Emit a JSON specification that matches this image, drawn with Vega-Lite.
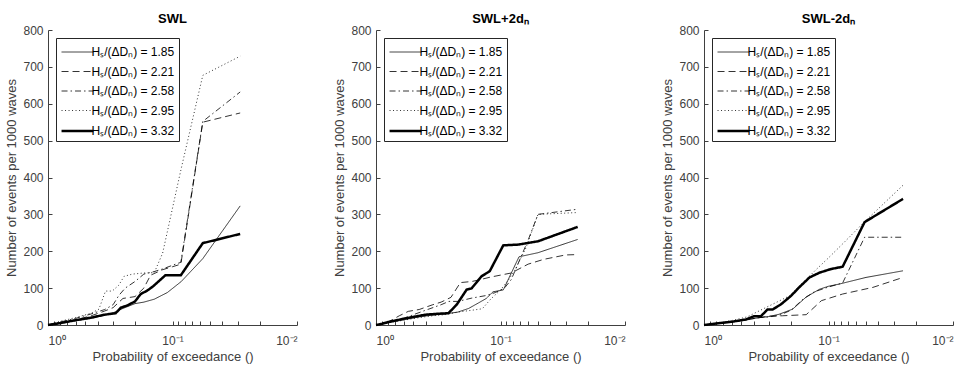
{
  "$schema": "https://vega.github.io/schema/vega-lite/v6.json",
  "background": "white",
  "padding": {"left": 5, "top": 13, "right": 5, "bottom": 3},
  "bounds": "flush",
  "spacing": 79,
  "config": {
    "view": {"stroke": null},
    "font": "Liberation Sans",
    "axis": {
      "grid": false,
      "labelFont": "Liberation Sans",
      "labelFontSize": 12,
      "labelColor": "#404040",
      "titleFont": "Liberation Sans",
      "titleFontSize": 13,
      "titleFontWeight": "normal",
      "titleColor": "#404040",
      "domainColor": "#404040",
      "tickColor": "#404040",
      "tickSize": -4,
      "labelOverlap": false
    },
    "axisX": {"labelPadding": 14, "titlePadding": 4},
    "axisY": {"labelPadding": 9, "titlePadding": 4},
    "title": {"font": "Liberation Sans", "fontSize": 13, "fontWeight": "bold", "color": "black", "offset": -2},
    "legend": {
      "orient": "top-left",
      "offset": 8,
      "padding": 4,
      "strokeColor": "#262626",
      "fillColor": "white",
      "symbolType": "M-1.68,0H1.68",
      "symbolSize": 361,
      "symbolOffset": 6.5,
      "symbolFillColor": "transparent",
      "symbolStrokeColor": "black",
      "labelFont": "Liberation Sans",
      "labelFontSize": 12,
      "labelColor": "black",
      "labelOffset": 3,
      "rowPadding": 3.5,
      "title": null
    }
  },
  "datasets": {
    "d": [
      {"panel": "SWL", "series": "1.85", "p": 1, "n": 0},
      {"panel": "SWL", "series": "1.85", "p": 0.8, "n": 5},
      {"panel": "SWL", "series": "1.85", "p": 0.6, "n": 12},
      {"panel": "SWL", "series": "1.85", "p": 0.45, "n": 18},
      {"panel": "SWL", "series": "1.85", "p": 0.35, "n": 27},
      {"panel": "SWL", "series": "1.85", "p": 0.3, "n": 33},
      {"panel": "SWL", "series": "1.85", "p": 0.25, "n": 45},
      {"panel": "SWL", "series": "1.85", "p": 0.2, "n": 58},
      {"panel": "SWL", "series": "1.85", "p": 0.17, "n": 62},
      {"panel": "SWL", "series": "1.85", "p": 0.14, "n": 70},
      {"panel": "SWL", "series": "1.85", "p": 0.11, "n": 88},
      {"panel": "SWL", "series": "1.85", "p": 0.085, "n": 118},
      {"panel": "SWL", "series": "1.85", "p": 0.0571, "n": 180},
      {"panel": "SWL", "series": "1.85", "p": 0.0286, "n": 323},

      {"panel": "SWL", "series": "2.21", "p": 1, "n": 0},
      {"panel": "SWL", "series": "2.21", "p": 0.8, "n": 6},
      {"panel": "SWL", "series": "2.21", "p": 0.6, "n": 14},
      {"panel": "SWL", "series": "2.21", "p": 0.45, "n": 25},
      {"panel": "SWL", "series": "2.21", "p": 0.35, "n": 38},
      {"panel": "SWL", "series": "2.21", "p": 0.3, "n": 47},
      {"panel": "SWL", "series": "2.21", "p": 0.25, "n": 72},
      {"panel": "SWL", "series": "2.21", "p": 0.2, "n": 77},
      {"panel": "SWL", "series": "2.21", "p": 0.17, "n": 100},
      {"panel": "SWL", "series": "2.21", "p": 0.15, "n": 135},
      {"panel": "SWL", "series": "2.21", "p": 0.12, "n": 150},
      {"panel": "SWL", "series": "2.21", "p": 0.1, "n": 158},
      {"panel": "SWL", "series": "2.21", "p": 0.0857, "n": 165},
      {"panel": "SWL", "series": "2.21", "p": 0.0571, "n": 550},
      {"panel": "SWL", "series": "2.21", "p": 0.0286, "n": 575},

      {"panel": "SWL", "series": "2.58", "p": 1, "n": 0},
      {"panel": "SWL", "series": "2.58", "p": 0.8, "n": 8},
      {"panel": "SWL", "series": "2.58", "p": 0.6, "n": 18},
      {"panel": "SWL", "series": "2.58", "p": 0.45, "n": 30},
      {"panel": "SWL", "series": "2.58", "p": 0.35, "n": 42},
      {"panel": "SWL", "series": "2.58", "p": 0.3, "n": 55},
      {"panel": "SWL", "series": "2.58", "p": 0.27, "n": 80},
      {"panel": "SWL", "series": "2.58", "p": 0.24, "n": 100},
      {"panel": "SWL", "series": "2.58", "p": 0.2, "n": 118},
      {"panel": "SWL", "series": "2.58", "p": 0.17, "n": 138},
      {"panel": "SWL", "series": "2.58", "p": 0.14, "n": 145},
      {"panel": "SWL", "series": "2.58", "p": 0.12, "n": 152},
      {"panel": "SWL", "series": "2.58", "p": 0.1, "n": 162},
      {"panel": "SWL", "series": "2.58", "p": 0.0857, "n": 170},
      {"panel": "SWL", "series": "2.58", "p": 0.0571, "n": 552},
      {"panel": "SWL", "series": "2.58", "p": 0.0286, "n": 632},

      {"panel": "SWL", "series": "2.95", "p": 1, "n": 0},
      {"panel": "SWL", "series": "2.95", "p": 0.8, "n": 10},
      {"panel": "SWL", "series": "2.95", "p": 0.6, "n": 20},
      {"panel": "SWL", "series": "2.95", "p": 0.45, "n": 32},
      {"panel": "SWL", "series": "2.95", "p": 0.39, "n": 43},
      {"panel": "SWL", "series": "2.95", "p": 0.345, "n": 92},
      {"panel": "SWL", "series": "2.95", "p": 0.305, "n": 92},
      {"panel": "SWL", "series": "2.95", "p": 0.27, "n": 108},
      {"panel": "SWL", "series": "2.95", "p": 0.245, "n": 132},
      {"panel": "SWL", "series": "2.95", "p": 0.21, "n": 138},
      {"panel": "SWL", "series": "2.95", "p": 0.17, "n": 141},
      {"panel": "SWL", "series": "2.95", "p": 0.14, "n": 142},
      {"panel": "SWL", "series": "2.95", "p": 0.12, "n": 195},
      {"panel": "SWL", "series": "2.95", "p": 0.0857, "n": 420},
      {"panel": "SWL", "series": "2.95", "p": 0.0571, "n": 677},
      {"panel": "SWL", "series": "2.95", "p": 0.0286, "n": 729},

      {"panel": "SWL", "series": "3.32", "p": 1, "n": 0},
      {"panel": "SWL", "series": "3.32", "p": 0.8, "n": 5},
      {"panel": "SWL", "series": "3.32", "p": 0.6, "n": 13},
      {"panel": "SWL", "series": "3.32", "p": 0.45, "n": 20},
      {"panel": "SWL", "series": "3.32", "p": 0.35, "n": 28},
      {"panel": "SWL", "series": "3.32", "p": 0.286, "n": 32},
      {"panel": "SWL", "series": "3.32", "p": 0.26, "n": 47},
      {"panel": "SWL", "series": "3.32", "p": 0.23, "n": 53},
      {"panel": "SWL", "series": "3.32", "p": 0.2, "n": 64},
      {"panel": "SWL", "series": "3.32", "p": 0.18, "n": 84},
      {"panel": "SWL", "series": "3.32", "p": 0.16, "n": 93},
      {"panel": "SWL", "series": "3.32", "p": 0.143, "n": 105},
      {"panel": "SWL", "series": "3.32", "p": 0.114, "n": 135},
      {"panel": "SWL", "series": "3.32", "p": 0.0857, "n": 135},
      {"panel": "SWL", "series": "3.32", "p": 0.0571, "n": 222},
      {"panel": "SWL", "series": "3.32", "p": 0.0286, "n": 247},

      {"panel": "SWL+2dn", "series": "1.85", "p": 1, "n": 0},
      {"panel": "SWL+2dn", "series": "1.85", "p": 0.8, "n": 6},
      {"panel": "SWL+2dn", "series": "1.85", "p": 0.6, "n": 14},
      {"panel": "SWL+2dn", "series": "1.85", "p": 0.45, "n": 22},
      {"panel": "SWL+2dn", "series": "1.85", "p": 0.35, "n": 27},
      {"panel": "SWL+2dn", "series": "1.85", "p": 0.28, "n": 30},
      {"panel": "SWL+2dn", "series": "1.85", "p": 0.22, "n": 35},
      {"panel": "SWL+2dn", "series": "1.85", "p": 0.18, "n": 45},
      {"panel": "SWL+2dn", "series": "1.85", "p": 0.15, "n": 60},
      {"panel": "SWL+2dn", "series": "1.85", "p": 0.13, "n": 72},
      {"panel": "SWL+2dn", "series": "1.85", "p": 0.115, "n": 90},
      {"panel": "SWL+2dn", "series": "1.85", "p": 0.095, "n": 95},
      {"panel": "SWL+2dn", "series": "1.85", "p": 0.071, "n": 185},
      {"panel": "SWL+2dn", "series": "1.85", "p": 0.05, "n": 196},
      {"panel": "SWL+2dn", "series": "1.85", "p": 0.024, "n": 232},

      {"panel": "SWL+2dn", "series": "2.21", "p": 1, "n": 0},
      {"panel": "SWL+2dn", "series": "2.21", "p": 0.8, "n": 8},
      {"panel": "SWL+2dn", "series": "2.21", "p": 0.65, "n": 25},
      {"panel": "SWL+2dn", "series": "2.21", "p": 0.55, "n": 37},
      {"panel": "SWL+2dn", "series": "2.21", "p": 0.45, "n": 42},
      {"panel": "SWL+2dn", "series": "2.21", "p": 0.35, "n": 55},
      {"panel": "SWL+2dn", "series": "2.21", "p": 0.3, "n": 62},
      {"panel": "SWL+2dn", "series": "2.21", "p": 0.25, "n": 75},
      {"panel": "SWL+2dn", "series": "2.21", "p": 0.21, "n": 115},
      {"panel": "SWL+2dn", "series": "2.21", "p": 0.17, "n": 118},
      {"panel": "SWL+2dn", "series": "2.21", "p": 0.15, "n": 122},
      {"panel": "SWL+2dn", "series": "2.21", "p": 0.12, "n": 130},
      {"panel": "SWL+2dn", "series": "2.21", "p": 0.082, "n": 141},
      {"panel": "SWL+2dn", "series": "2.21", "p": 0.06, "n": 165},
      {"panel": "SWL+2dn", "series": "2.21", "p": 0.045, "n": 178},
      {"panel": "SWL+2dn", "series": "2.21", "p": 0.03, "n": 190},
      {"panel": "SWL+2dn", "series": "2.21", "p": 0.024, "n": 191},

      {"panel": "SWL+2dn", "series": "2.58", "p": 1, "n": 0},
      {"panel": "SWL+2dn", "series": "2.58", "p": 0.8, "n": 7},
      {"panel": "SWL+2dn", "series": "2.58", "p": 0.6, "n": 18},
      {"panel": "SWL+2dn", "series": "2.58", "p": 0.5, "n": 28},
      {"panel": "SWL+2dn", "series": "2.58", "p": 0.4, "n": 40},
      {"panel": "SWL+2dn", "series": "2.58", "p": 0.3, "n": 55},
      {"panel": "SWL+2dn", "series": "2.58", "p": 0.26, "n": 64},
      {"panel": "SWL+2dn", "series": "2.58", "p": 0.22, "n": 64},
      {"panel": "SWL+2dn", "series": "2.58", "p": 0.17, "n": 73},
      {"panel": "SWL+2dn", "series": "2.58", "p": 0.13, "n": 80},
      {"panel": "SWL+2dn", "series": "2.58", "p": 0.11, "n": 88},
      {"panel": "SWL+2dn", "series": "2.58", "p": 0.093, "n": 100},
      {"panel": "SWL+2dn", "series": "2.58", "p": 0.082, "n": 123},
      {"panel": "SWL+2dn", "series": "2.58", "p": 0.06, "n": 230},
      {"panel": "SWL+2dn", "series": "2.58", "p": 0.05, "n": 300},
      {"panel": "SWL+2dn", "series": "2.58", "p": 0.024, "n": 314},

      {"panel": "SWL+2dn", "series": "2.95", "p": 1, "n": 0},
      {"panel": "SWL+2dn", "series": "2.95", "p": 0.8, "n": 6},
      {"panel": "SWL+2dn", "series": "2.95", "p": 0.6, "n": 13},
      {"panel": "SWL+2dn", "series": "2.95", "p": 0.45, "n": 20},
      {"panel": "SWL+2dn", "series": "2.95", "p": 0.35, "n": 25},
      {"panel": "SWL+2dn", "series": "2.95", "p": 0.28, "n": 28},
      {"panel": "SWL+2dn", "series": "2.95", "p": 0.22, "n": 35},
      {"panel": "SWL+2dn", "series": "2.95", "p": 0.17, "n": 40},
      {"panel": "SWL+2dn", "series": "2.95", "p": 0.14, "n": 44},
      {"panel": "SWL+2dn", "series": "2.95", "p": 0.12, "n": 70},
      {"panel": "SWL+2dn", "series": "2.95", "p": 0.1, "n": 95},
      {"panel": "SWL+2dn", "series": "2.95", "p": 0.085, "n": 125},
      {"panel": "SWL+2dn", "series": "2.95", "p": 0.075, "n": 155},
      {"panel": "SWL+2dn", "series": "2.95", "p": 0.0625, "n": 209},
      {"panel": "SWL+2dn", "series": "2.95", "p": 0.05, "n": 300},
      {"panel": "SWL+2dn", "series": "2.95", "p": 0.024, "n": 305},

      {"panel": "SWL+2dn", "series": "3.32", "p": 1, "n": 0},
      {"panel": "SWL+2dn", "series": "3.32", "p": 0.9, "n": 3},
      {"panel": "SWL+2dn", "series": "3.32", "p": 0.8, "n": 8},
      {"panel": "SWL+2dn", "series": "3.32", "p": 0.58, "n": 18},
      {"panel": "SWL+2dn", "series": "3.32", "p": 0.4, "n": 28},
      {"panel": "SWL+2dn", "series": "3.32", "p": 0.3, "n": 31},
      {"panel": "SWL+2dn", "series": "3.32", "p": 0.262, "n": 32},
      {"panel": "SWL+2dn", "series": "3.32", "p": 0.225, "n": 55},
      {"panel": "SWL+2dn", "series": "3.32", "p": 0.187, "n": 96},
      {"panel": "SWL+2dn", "series": "3.32", "p": 0.171, "n": 99},
      {"panel": "SWL+2dn", "series": "3.32", "p": 0.142, "n": 132},
      {"panel": "SWL+2dn", "series": "3.32", "p": 0.122, "n": 146},
      {"panel": "SWL+2dn", "series": "3.32", "p": 0.095, "n": 216},
      {"panel": "SWL+2dn", "series": "3.32", "p": 0.072, "n": 218},
      {"panel": "SWL+2dn", "series": "3.32", "p": 0.05, "n": 227},
      {"panel": "SWL+2dn", "series": "3.32", "p": 0.024, "n": 266},

      {"panel": "SWL-2dn", "series": "1.85", "p": 1, "n": 0},
      {"panel": "SWL-2dn", "series": "1.85", "p": 0.8, "n": 4},
      {"panel": "SWL-2dn", "series": "1.85", "p": 0.6, "n": 9},
      {"panel": "SWL-2dn", "series": "1.85", "p": 0.45, "n": 14},
      {"panel": "SWL-2dn", "series": "1.85", "p": 0.36, "n": 20},
      {"panel": "SWL-2dn", "series": "1.85", "p": 0.3, "n": 23},
      {"panel": "SWL-2dn", "series": "1.85", "p": 0.25, "n": 29},
      {"panel": "SWL-2dn", "series": "1.85", "p": 0.194, "n": 43},
      {"panel": "SWL-2dn", "series": "1.85", "p": 0.151, "n": 76},
      {"panel": "SWL-2dn", "series": "1.85", "p": 0.118, "n": 97},
      {"panel": "SWL-2dn", "series": "1.85", "p": 0.1, "n": 105},
      {"panel": "SWL-2dn", "series": "1.85", "p": 0.082, "n": 111},
      {"panel": "SWL-2dn", "series": "1.85", "p": 0.05, "n": 129},
      {"panel": "SWL-2dn", "series": "1.85", "p": 0.0252, "n": 147},

      {"panel": "SWL-2dn", "series": "2.21", "p": 1, "n": 0},
      {"panel": "SWL-2dn", "series": "2.21", "p": 0.8, "n": 4},
      {"panel": "SWL-2dn", "series": "2.21", "p": 0.6, "n": 9},
      {"panel": "SWL-2dn", "series": "2.21", "p": 0.45, "n": 15},
      {"panel": "SWL-2dn", "series": "2.21", "p": 0.36, "n": 20},
      {"panel": "SWL-2dn", "series": "2.21", "p": 0.3, "n": 24},
      {"panel": "SWL-2dn", "series": "2.21", "p": 0.235, "n": 25},
      {"panel": "SWL-2dn", "series": "2.21", "p": 0.151, "n": 28},
      {"panel": "SWL-2dn", "series": "2.21", "p": 0.114, "n": 66},
      {"panel": "SWL-2dn", "series": "2.21", "p": 0.077, "n": 84},
      {"panel": "SWL-2dn", "series": "2.21", "p": 0.044, "n": 102},
      {"panel": "SWL-2dn", "series": "2.21", "p": 0.0252, "n": 129},

      {"panel": "SWL-2dn", "series": "2.58", "p": 1, "n": 0},
      {"panel": "SWL-2dn", "series": "2.58", "p": 0.8, "n": 4},
      {"panel": "SWL-2dn", "series": "2.58", "p": 0.6, "n": 9},
      {"panel": "SWL-2dn", "series": "2.58", "p": 0.45, "n": 15},
      {"panel": "SWL-2dn", "series": "2.58", "p": 0.36, "n": 20},
      {"panel": "SWL-2dn", "series": "2.58", "p": 0.3, "n": 22},
      {"panel": "SWL-2dn", "series": "2.58", "p": 0.25, "n": 26},
      {"panel": "SWL-2dn", "series": "2.58", "p": 0.2, "n": 40},
      {"panel": "SWL-2dn", "series": "2.58", "p": 0.16, "n": 70},
      {"panel": "SWL-2dn", "series": "2.58", "p": 0.13, "n": 90},
      {"panel": "SWL-2dn", "series": "2.58", "p": 0.1, "n": 103},
      {"panel": "SWL-2dn", "series": "2.58", "p": 0.077, "n": 114},
      {"panel": "SWL-2dn", "series": "2.58", "p": 0.0513, "n": 238},
      {"panel": "SWL-2dn", "series": "2.58", "p": 0.0252, "n": 238},

      {"panel": "SWL-2dn", "series": "2.95", "p": 1, "n": 0},
      {"panel": "SWL-2dn", "series": "2.95", "p": 0.8, "n": 5},
      {"panel": "SWL-2dn", "series": "2.95", "p": 0.6, "n": 12},
      {"panel": "SWL-2dn", "series": "2.95", "p": 0.45, "n": 22},
      {"panel": "SWL-2dn", "series": "2.95", "p": 0.32, "n": 47},
      {"panel": "SWL-2dn", "series": "2.95", "p": 0.26, "n": 62},
      {"panel": "SWL-2dn", "series": "2.95", "p": 0.206, "n": 79},
      {"panel": "SWL-2dn", "series": "2.95", "p": 0.171, "n": 106},
      {"panel": "SWL-2dn", "series": "2.95", "p": 0.126, "n": 150},
      {"panel": "SWL-2dn", "series": "2.95", "p": 0.1, "n": 182},
      {"panel": "SWL-2dn", "series": "2.95", "p": 0.077, "n": 220},
      {"panel": "SWL-2dn", "series": "2.95", "p": 0.0513, "n": 280},
      {"panel": "SWL-2dn", "series": "2.95", "p": 0.0252, "n": 379},

      {"panel": "SWL-2dn", "series": "3.32", "p": 1, "n": 0},
      {"panel": "SWL-2dn", "series": "3.32", "p": 0.8, "n": 4},
      {"panel": "SWL-2dn", "series": "3.32", "p": 0.591, "n": 9},
      {"panel": "SWL-2dn", "series": "3.32", "p": 0.461, "n": 15},
      {"panel": "SWL-2dn", "series": "3.32", "p": 0.395, "n": 24},
      {"panel": "SWL-2dn", "series": "3.32", "p": 0.349, "n": 24},
      {"panel": "SWL-2dn", "series": "3.32", "p": 0.309, "n": 42},
      {"panel": "SWL-2dn", "series": "3.32", "p": 0.281, "n": 42},
      {"panel": "SWL-2dn", "series": "3.32", "p": 0.241, "n": 56},
      {"panel": "SWL-2dn", "series": "3.32", "p": 0.2, "n": 79},
      {"panel": "SWL-2dn", "series": "3.32", "p": 0.171, "n": 103},
      {"panel": "SWL-2dn", "series": "3.32", "p": 0.142, "n": 129},
      {"panel": "SWL-2dn", "series": "3.32", "p": 0.118, "n": 142},
      {"panel": "SWL-2dn", "series": "3.32", "p": 0.095, "n": 152},
      {"panel": "SWL-2dn", "series": "3.32", "p": 0.077, "n": 158},
      {"panel": "SWL-2dn", "series": "3.32", "p": 0.0513, "n": 279},
      {"panel": "SWL-2dn", "series": "3.32", "p": 0.0252, "n": 342}
    ]
  },
  "resolve": {"legend": {"strokeDash": "independent", "strokeWidth": "independent"}},
  "hconcat": [
    {
      "width": 249, "height": 295,
      "title": "SWL",
      "data": {"name": "d"},
      "transform": [{"filter": "datum.panel === 'SWL'"}],
      "mark": {"type": "line", "color": "black"},
      "encoding": {
        "x": {"field": "p", "type": "quantitative", "title": "Probability of exceedance ()",
          "scale": {"type": "log", "domain": [0.01, 1], "reverse": true},
          "axis": {"values": [1,0.9,0.8,0.7,0.6,0.5,0.4,0.3,0.2,0.1,0.09,0.08,0.07,0.06,0.05,0.04,0.03,0.02,0.01],
                   "labelExpr": "datum.value > 0.99 ? '10⁰' : (abs(datum.value - 0.1) < 1e-9 ? '10⁻¹' : (datum.value < 0.0101 ? '10⁻²' : ''))"}},
        "y": {"field": "n", "type": "quantitative", "title": "Number of events per 1000 waves",
          "scale": {"domain": [0, 800]},
          "axis": {"values": [0,100,200,300,400,500,600,700,800]}},
        "strokeDash": {"field": "series", "type": "ordinal",
          "scale": {"type": "ordinal", "domain": ["1.85","2.21","2.58","2.95","3.32"], "range": [[1,0],[7,4],[6,3,1.5,3],[1,2.5],[1,0]]},
          "legend": {"labelExpr": "'Hₛ/(ΔDₙ) = ' + datum.label"}},
        "strokeWidth": {"field": "series", "type": "ordinal",
          "scale": {"type": "ordinal", "domain": ["1.85","2.21","2.58","2.95","3.32"], "range": [0.8,0.8,0.8,0.8,2.5]},
          "legend": {"labelExpr": "'Hₛ/(ΔDₙ) = ' + datum.label"}}
      }
    },
    {
      "width": 249, "height": 295,
      "title": "SWL+2dₙ",
      "data": {"name": "d"},
      "transform": [{"filter": "datum.panel === 'SWL+2dn'"}],
      "mark": {"type": "line", "color": "black"},
      "encoding": {
        "x": {"field": "p", "type": "quantitative", "title": "Probability of exceedance ()",
          "scale": {"type": "log", "domain": [0.01, 1], "reverse": true},
          "axis": {"values": [1,0.9,0.8,0.7,0.6,0.5,0.4,0.3,0.2,0.1,0.09,0.08,0.07,0.06,0.05,0.04,0.03,0.02,0.01],
                   "labelExpr": "datum.value > 0.99 ? '10⁰' : (abs(datum.value - 0.1) < 1e-9 ? '10⁻¹' : (datum.value < 0.0101 ? '10⁻²' : ''))"}},
        "y": {"field": "n", "type": "quantitative", "title": "Number of events per 1000 waves",
          "scale": {"domain": [0, 800]},
          "axis": {"values": [0,100,200,300,400,500,600,700,800]}},
        "strokeDash": {"field": "series", "type": "ordinal",
          "scale": {"type": "ordinal", "domain": ["1.85","2.21","2.58","2.95","3.32"], "range": [[1,0],[7,4],[6,3,1.5,3],[1,2.5],[1,0]]},
          "legend": {"labelExpr": "'Hₛ/(ΔDₙ) = ' + datum.label"}},
        "strokeWidth": {"field": "series", "type": "ordinal",
          "scale": {"type": "ordinal", "domain": ["1.85","2.21","2.58","2.95","3.32"], "range": [0.8,0.8,0.8,0.8,2.5]},
          "legend": {"labelExpr": "'Hₛ/(ΔDₙ) = ' + datum.label"}}
      }
    },
    {
      "width": 249, "height": 295,
      "title": "SWL-2dₙ",
      "data": {"name": "d"},
      "transform": [{"filter": "datum.panel === 'SWL-2dn'"}],
      "mark": {"type": "line", "color": "black"},
      "encoding": {
        "x": {"field": "p", "type": "quantitative", "title": "Probability of exceedance ()",
          "scale": {"type": "log", "domain": [0.01, 1], "reverse": true},
          "axis": {"values": [1,0.9,0.8,0.7,0.6,0.5,0.4,0.3,0.2,0.1,0.09,0.08,0.07,0.06,0.05,0.04,0.03,0.02,0.01],
                   "labelExpr": "datum.value > 0.99 ? '10⁰' : (abs(datum.value - 0.1) < 1e-9 ? '10⁻¹' : (datum.value < 0.0101 ? '10⁻²' : ''))"}},
        "y": {"field": "n", "type": "quantitative", "title": "Number of events per 1000 waves",
          "scale": {"domain": [0, 800]},
          "axis": {"values": [0,100,200,300,400,500,600,700,800]}},
        "strokeDash": {"field": "series", "type": "ordinal",
          "scale": {"type": "ordinal", "domain": ["1.85","2.21","2.58","2.95","3.32"], "range": [[1,0],[7,4],[6,3,1.5,3],[1,2.5],[1,0]]},
          "legend": {"labelExpr": "'Hₛ/(ΔDₙ) = ' + datum.label"}},
        "strokeWidth": {"field": "series", "type": "ordinal",
          "scale": {"type": "ordinal", "domain": ["1.85","2.21","2.58","2.95","3.32"], "range": [0.8,0.8,0.8,0.8,2.5]},
          "legend": {"labelExpr": "'Hₛ/(ΔDₙ) = ' + datum.label"}}
      }
    }
  ]
}
